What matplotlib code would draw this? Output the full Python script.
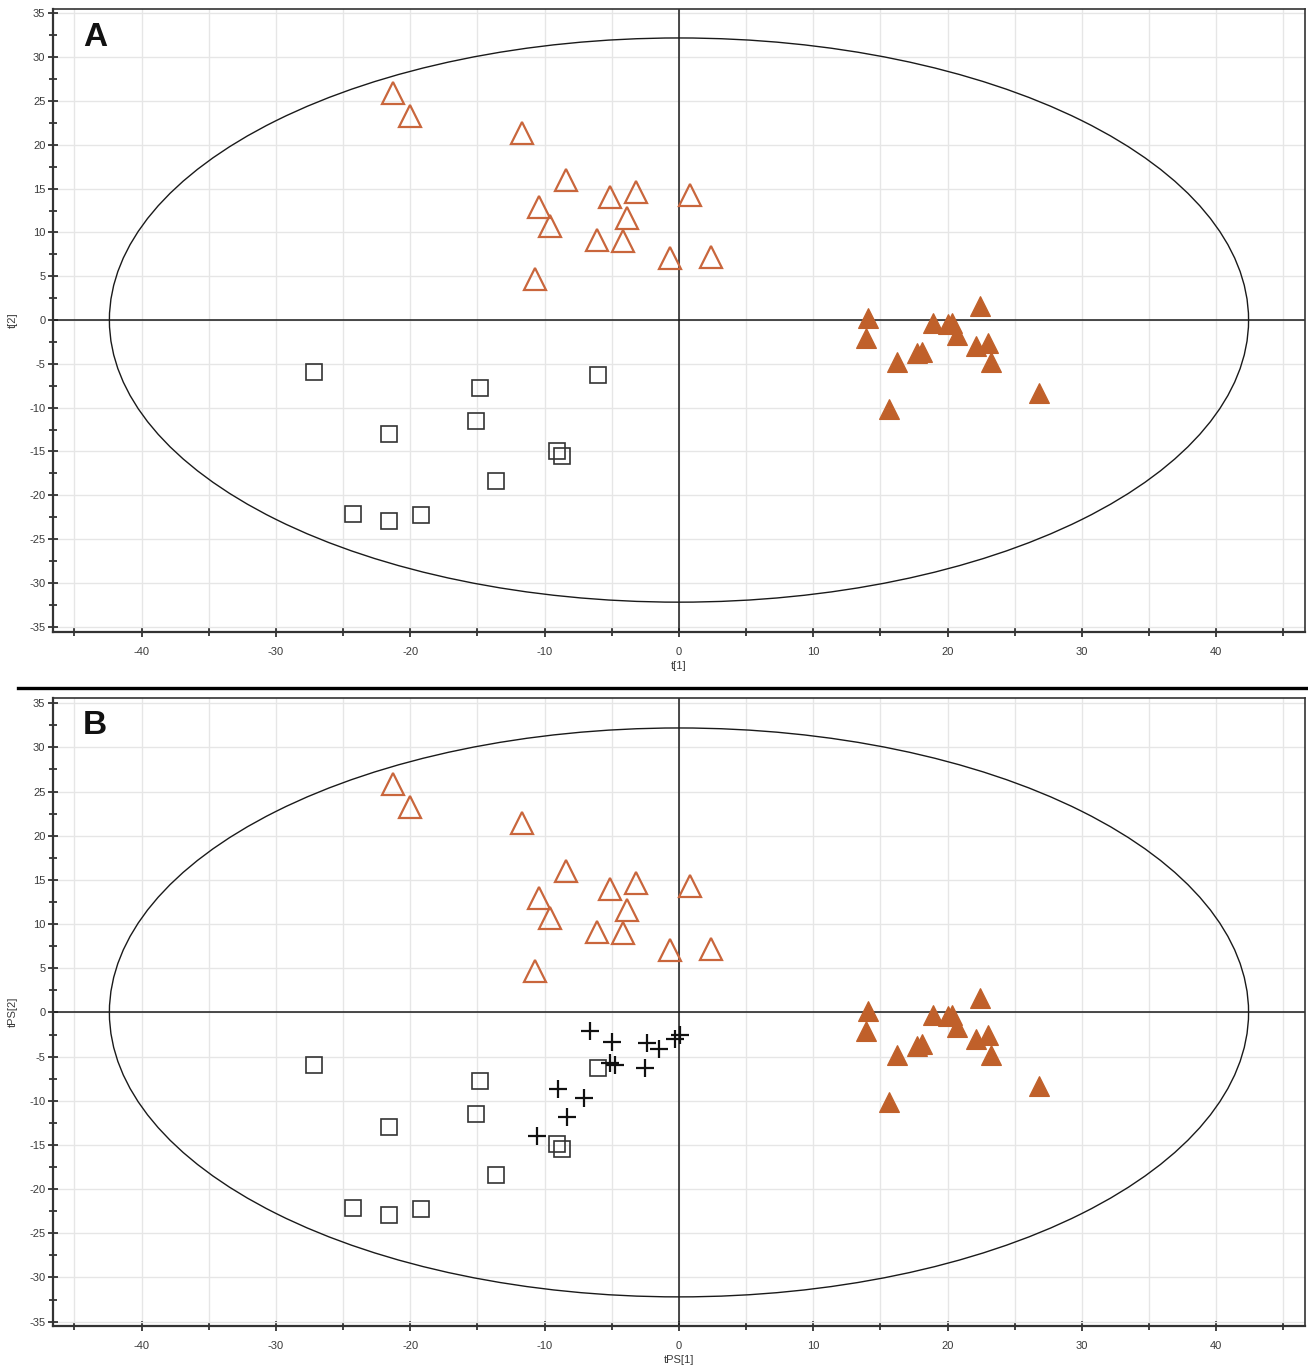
import matplotlib
matplotlib.use("Agg")
import matplotlib.pyplot as plt
from matplotlib.patches import Ellipse
from matplotlib.lines import Line2D
from matplotlib.ticker import MultipleLocator
import numpy as np

plt.rcParams['font.family'] = ['Liberation Sans', 'DejaVu Sans']
plt.rcParams['axes.unicode_minus'] = False

# ---- data ----
open_tri_x = [-21.3, -20.0, -11.7, -8.4, -5.1, -3.2, 0.8, -10.4, -3.9, -9.6, -6.1, -4.2, -0.7, 2.4, -10.7]
open_tri_y = [25.9, 23.3, 21.4, 16.0, 14.0, 14.6, 14.3, 12.9, 11.6, 10.7, 9.1, 9.0, 7.1, 7.2, 4.7]

fill_tri_x = [14.1, 13.9, 16.2, 17.7, 18.1, 18.9, 20.0, 20.3, 20.7, 22.4, 22.1, 23.0, 23.2, 26.8, 15.6]
fill_tri_y = [0.2, -2.1, -4.8, -3.8, -3.6, -0.3, -0.4, -0.3, -1.7, 1.6, -3.0, -2.6, -4.8, -8.3, -10.1]

square_x = [-27.2, -14.8, -6.0, -21.6, -15.1, -9.1, -8.7, -13.6, -24.3, -21.6, -19.2]
square_y = [-5.9, -7.8, -6.3, -13.0, -11.5, -14.9, -15.5, -18.4, -22.1, -22.9, -22.3]

plus_x = [-6.6, -5.0, -2.4, -1.5, -0.3, 0.1, -5.1, -4.8, -2.5, -9.0, -7.1, -8.3, -10.6]
plus_y = [-2.1, -3.4, -3.5, -4.1, -3.0, -2.5, -5.7, -5.9, -6.3, -8.7, -9.7, -11.8, -14.0]

ellipse_a = 42.4
ellipse_b = 32.2

panels = [
    dict(label='A', xlabel='t[1]', ylabel='t[2]', plus=False),
    dict(label='B', xlabel='tPS[1]', ylabel='tPS[2]', plus=True),
]

RUST = '#c0602a'
OPEN_EDGE = '#c9663c'

fig = plt.figure(figsize=(13.08, 13.72), dpi=100)
rects = [[0.0405, 0.5394, 0.9572, 0.4540], [0.0405, 0.0335, 0.9572, 0.4578]]
ylims = [(-35.6, 35.5), (-35.5, 35.6)]

for rect, p, yl in zip(rects, panels, ylims):
    ax = fig.add_axes(rect)
    ax.set_xlim(-46.6, 46.6)
    ax.set_ylim(*yl)
    ax.xaxis.set_major_locator(MultipleLocator(10))
    ax.xaxis.set_minor_locator(MultipleLocator(5))
    ax.yaxis.set_major_locator(MultipleLocator(5))
    ax.yaxis.set_minor_locator(MultipleLocator(2.5))
    ax.grid(True, which='major', color='#e6e6e6', lw=1.0, zorder=0)
    ax.grid(True, which='minor', axis='x', color='#e6e6e6', lw=1.0, zorder=0)
    ax.set_axisbelow(True)
    ax.tick_params(axis='both', which='both', direction='inout', color='#222222',
                   labelsize=8, labelcolor='#3a3a3a', width=1.2)
    ax.tick_params(axis='both', which='major', length=7)
    ax.tick_params(axis='both', which='minor', length=6)
    ax.tick_params(axis='x', pad=7)
    ax.tick_params(axis='y', pad=2)
    for s in ax.spines.values():
        s.set_color('#333333')
        s.set_linewidth(1.2)
    ax.spines['left'].set_linewidth(1.6)
    ax.spines['bottom'].set_linewidth(1.6)

    ax.axhline(0, color='#1a1a1a', lw=1.1, zorder=1)
    ax.axvline(0, color='#1a1a1a', lw=1.1, zorder=1)
    ax.add_patch(Ellipse((0, 0), 2 * ellipse_a, 2 * ellipse_b, fill=False,
                         edgecolor='#1a1a1a', lw=1.0, zorder=1))

    ax.plot(open_tri_x, open_tri_y, linestyle='none', marker='^', markersize=16,
            markerfacecolor='none', markeredgecolor=OPEN_EDGE, markeredgewidth=1.6, zorder=3)
    ax.plot(fill_tri_x, fill_tri_y, linestyle='none', marker='^', markersize=14,
            markerfacecolor=RUST, markeredgecolor=RUST, markeredgewidth=0.8, zorder=3)
    ax.plot(square_x, square_y, linestyle='none', marker='s', markersize=11,
            markerfacecolor='none', markeredgecolor='#333333', markeredgewidth=1.2, zorder=3)
    if p['plus']:
        ax.plot(plus_x, plus_y, linestyle='none', marker='+', markersize=13,
                markeredgecolor='#111111', markeredgewidth=1.6, zorder=4)

    ax.set_xlabel(p['xlabel'], fontsize=8, color='#3a3a3a', labelpad=3)
    ax.set_ylabel(p['ylabel'], fontsize=8, color='#3a3a3a', labelpad=8)
    ax.text(0.024, 0.98, p['label'], transform=ax.transAxes, fontsize=24,
            fontweight='bold', color='#111111', va='top', ha='left')

fig.add_artist(Line2D([18 / 1308, 1.0], [1 - 688 / 1372] * 2, color='black', lw=2.4,
                      transform=fig.transFigure))

fig.savefig('out.png', dpi=100)
